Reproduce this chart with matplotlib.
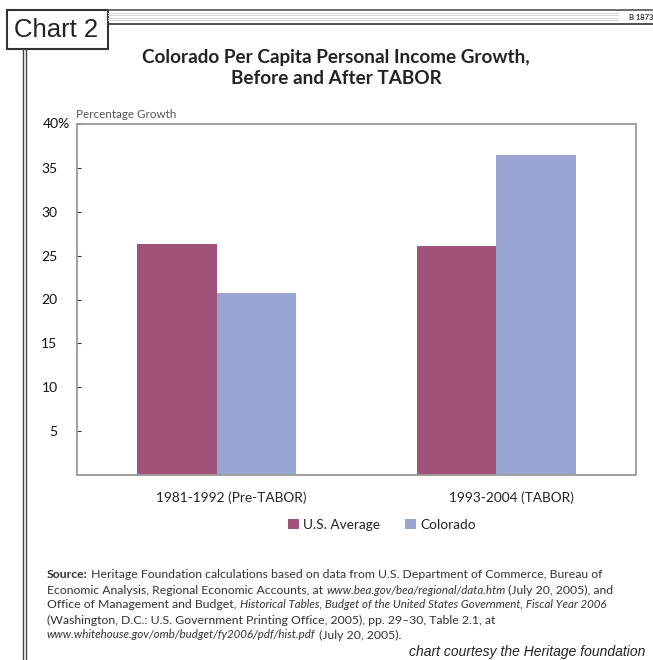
import matplotlib
matplotlib.use("Agg")
import matplotlib.pyplot as plt
from matplotlib.patches import Rectangle
from matplotlib.lines import Line2D
from matplotlib.transforms import ScaledTranslation
import numpy as np

plt.rcParams["font.family"] = ["Lato", "DejaVu Sans"]

# data
periods = ["1981-1992 (Pre-TABOR)", "1993-2004 (TABOR)"]
us_avg = [26.3, 26.1]
colorado = [20.7, 36.5]
y_ticks = [5, 10, 15, 20, 25, 30, 35, 40]
y_labels = ["5", "10", "15", "20", "25", "30", "35", ""]

US_COLOR = "#A05278"
CO_COLOR = "#99A6D4"
FRAME = "#9a9a9a"

W, H = 653, 660
fig = plt.figure(figsize=(W / 100, H / 100), dpi=100)


def fx(px):
    return px / W


def fy(py):
    return 1 - py / H


# header band with thin lines
for yy, c, lw in [(9.5, "#555555", 1.2), (12.5, "#d8d8d8", 0.8), (15, "#d8d8d8", 0.8),
                  (17.5, "#d8d8d8", 0.8), (20, "#d8d8d8", 0.8), (23.5, "#333333", 1.2)]:
    x1 = 653 if c != "#d8d8d8" else 618
    fig.add_artist(Line2D([fx(108), fx(x1)], [fy(yy), fy(yy)], color=c, lw=lw))
fig.text(fx(629), fy(17), "B 1873", fontsize=5.5, fontweight="bold", color="#333333",
         va="center", ha="left")

# "Chart 2" box
fig.add_artist(Rectangle((fx(7), fy(49)), fx(101), 39 / H, fill=False,
                         edgecolor="#333333", lw=1.5))
fig.text(fx(56), fy(30), "Chart 2", fontsize=18.5, ha="center", va="center",
         family=["Liberation Sans Narrow", "Liberation Sans", "DejaVu Sans"], color="#222222")

# left vertical double rule
for xx in (23, 26):
    fig.add_artist(Line2D([fx(xx), fx(xx)], [fy(49), 0], color="#444444", lw=1.0))

# title
fig.text(fx(336), fy(58), "Colorado Per Capita Personal Income Growth,",
         fontsize=13.6, fontweight="bold", ha="center", va="center", color="#222222")
fig.text(fx(336), fy(78), "Before and After TABOR",
         fontsize=13.6, fontweight="bold", ha="center", va="center", color="#222222")

# axes
ax = fig.add_axes([fx(77), fy(475), fx(559), 351 / H])
x = np.arange(len(periods))
bw = 0.285
ax.bar(x - bw / 2, us_avg, bw, color=US_COLOR, label="U.S. Average")
ax.bar(x + bw / 2, colorado, bw, color=CO_COLOR, label="Colorado")
ax.set_xlim(-0.5, 1.5)
ax.set_ylim(0, 40)
ax.set_yticks(y_ticks)
ax.set_yticklabels(y_labels, fontsize=10, color="#111111")
ax.tick_params(axis="y", direction="in", length=3, width=0.8, color="#333333", pad=14)
ax.set_xticks(x)
ax.set_xticklabels(periods, fontsize=9.8, color="#222222")
ax.tick_params(axis="x", length=0, pad=12)
shift = ScaledTranslation(15 / 100, 0, fig.dpi_scale_trans)
for lbl in ax.get_xticklabels():
    lbl.set_transform(lbl.get_transform() + shift)
for s in ax.spines.values():
    s.set_color(FRAME)
    s.set_linewidth(1.3)
fig.text(fx(70), fy(124), "40%", fontsize=10, color="#111111", ha="right", va="center")

fig.text(fx(76), fy(114), "Percentage Growth", fontsize=8.4, color="#555555",
         ha="left", va="center")

leg = fig.legend(loc="center", bbox_to_anchor=(fx(382), fy(525)), ncol=2, frameon=False,
                 fontsize=9.8, handlelength=0.8, handleheight=0.8, handletextpad=0.3,
                 columnspacing=1.8)
for t in leg.get_texts():
    t.set_color("#222222")

# source note with mixed italic segments
src_lines = [
    [("Source:", "bold"), (" Heritage Foundation calculations based on data from U.S. Department of Commerce, Bureau of", "normal")],
    [("Economic Analysis, Regional Economic Accounts, at ", "normal"), ("www.bea.gov/bea/regional/data.htm", "italic"),
     (" (July 20, 2005), and", "normal")],
    [("Office of Management and Budget, ", "normal"),
     ("Historical Tables, Budget of the United States Government, Fiscal Year 2006", "italic")],
    [("(Washington, D.C.: U.S. Government Printing Office, 2005), pp. 29\u201330, Table 2.1, at", "normal")],
    [("www.whitehouse.gov/omb/budget/fy2006/pdf/hist.pdf", "italic"), (" (July 20, 2005).", "normal")],
]
fig.canvas.draw()
renderer = fig.canvas.get_renderer()
for i, segs in enumerate(src_lines):
    xpos = 47
    for txt, style in segs:
        kw = dict(fontsize=8.8, color="#333333", ha="left", va="center")
        if style == "bold":
            kw["fontweight"] = "bold"
        elif style == "italic":
            kw["fontstyle"] = "italic"
            kw["fontsize"] = 8.3
        t = fig.text(fx(xpos), fy(575 + i * 15), txt, **kw)
        bb = t.get_window_extent(renderer)
        xpos += bb.width

fig.text(fx(645), fy(652), "chart courtesy the Heritage foundation", fontsize=10,
         fontstyle="italic", family=["Liberation Sans", "DejaVu Sans"], color="#222222",
         ha="right", va="center")

fig.savefig("out.png", dpi=100)
